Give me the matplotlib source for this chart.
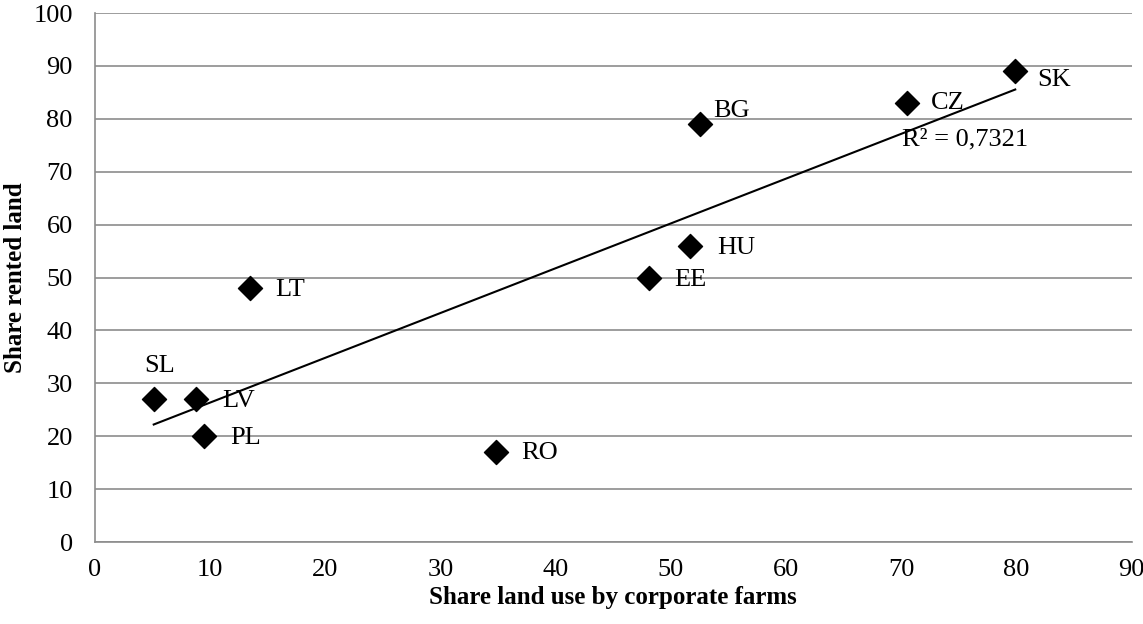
import numpy as np
import matplotlib
matplotlib.use('Agg')
from matplotlib import pyplot as plt

plt.rcParams['font.family'] = ['Liberation Serif', 'DejaVu Serif']

countries = ['SK', 'CZ', 'BG', 'HU', 'EE', 'LT', 'SL', 'LV', 'PL', 'RO']
corporate = [79.9, 70.5, 52.5, 51.7, 48.1, 13.5, 5.1, 8.8, 9.5, 34.8]
rented = [89, 83, 79, 56, 50, 48, 27, 27, 20, 17]

# label offsets in points
offsets = {'SK': (16, -6.5), 'CZ': (17.5, 0), 'BG': (9.5, 9.5), 'HU': (19, -1.5),
           'EE': (18.5, -1.5), 'LT': (17.5, -1), 'SL': (-6.5, 24), 'LV': (18.5, -1),
           'PL': (18.5, -1.5), 'RO': (18, -1)}

fig = plt.figure(figsize=(11.43, 6.24), dpi=100)
ax = fig.add_axes([0.0831, 0.1314, 0.9069, 0.8476])

ax.scatter(corporate, rented, marker='D', s=150, color='black', zorder=3)
for c, x, y in zip(countries, corporate, rented):
    ax.annotate(c, (x, y), xytext=offsets[c], textcoords='offset points',
                fontsize=19, va='center', ha='left')

# linear trend
k, b = np.polyfit(corporate, rented, 1)
xs = np.array([min(corporate), max(corporate)])
ax.plot(xs, k * xs + b, color='black', lw=1.5, zorder=2)
ax.text(70.1, 76.2, 'R² = 0,7321', fontsize=19, va='center')

ax.set_xlim(0, 90)
ax.set_ylim(0, 100)
ax.set_xticks(range(0, 91, 10))
ax.set_yticks(range(0, 101, 10))
ax.grid(axis='y', color='#8c8c8c', lw=1.2)
ax.set_axisbelow(True)
for s in ['top', 'right']:
    ax.spines[s].set_visible(False)
for s in ['left', 'bottom']:
    ax.spines[s].set_color('#8c8c8c')
    ax.spines[s].set_linewidth(1.2)
ax.tick_params(length=0, labelsize=19)
ax.tick_params(axis='y', pad=16)
ax.tick_params(axis='x', pad=12)
ax.set_xlabel('Share land use by corporate farms', fontsize=18, fontweight='bold', va='center')
ax.set_ylabel('Share rented land', fontsize=18, fontweight='bold', va='center')
ax.xaxis.set_label_coords(0.5, -0.104)
ax.yaxis.set_label_coords(-0.0762, 0.5)

fig.savefig('out.png', dpi=100)
